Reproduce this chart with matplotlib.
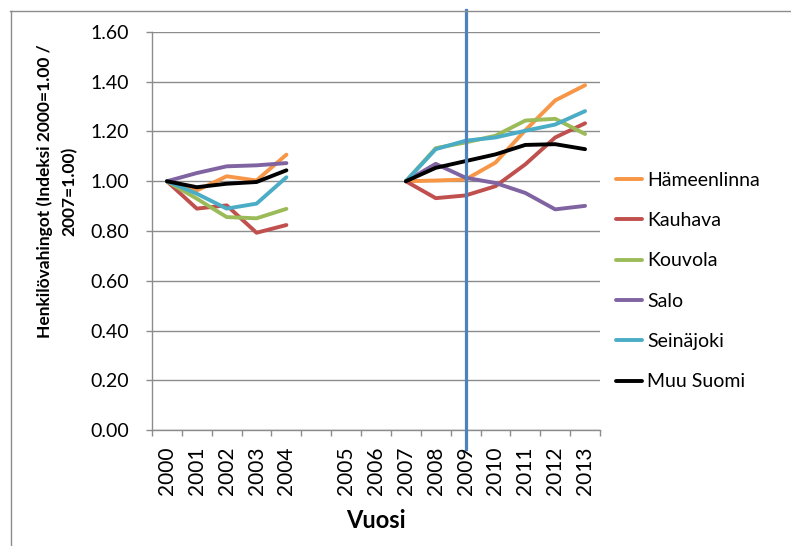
import numpy as np
import matplotlib
matplotlib.use("Agg")
import matplotlib.pyplot as plt
from matplotlib.lines import Line2D

plt.rcParams['font.family'] = ['Lato', 'DejaVu Sans']

categories = ["2000", "2001", "2002", "2003", "2004", "",
              "2005", "2006", "2007", "2008", "2009", "2010", "2011", "2012", "2013"]

N = None
hameenlinna = [1.00, 0.963, 1.02, 1.003, 1.107, N, N, N, 1.00, 1.003, 1.007, 1.075, 1.205, 1.325, 1.386]
kauhava     = [1.00, 0.89, 0.903, 0.793, 0.824, N, N, N, 1.00, 0.932, 0.943, 0.98, 1.068, 1.176, 1.233]
kouvola     = [1.00, 0.93, 0.856, 0.851, 0.889, N, N, N, 1.00, 1.133, 1.156, 1.183, 1.244, 1.251, 1.19]
salo        = [1.00, 1.033, 1.06, 1.064, 1.073, N, N, N, 1.00, 1.07, 1.014, 0.993, 0.953, 0.887, 0.901]
seinajoki   = [1.00, 0.95, 0.89, 0.91, 1.016, N, N, N, 1.00, 1.129, 1.163, 1.176, 1.203, 1.228, 1.282]
muu_suomi   = [1.00, 0.976, 0.99, 0.997, 1.044, N, N, N, 1.00, 1.054, 1.081, 1.108, 1.146, 1.149, 1.129]

series_names = ["Hämeenlinna", "Kauhava", "Kouvola", "Salo", "Seinäjoki", "Muu Suomi"]
series_values = [hameenlinna, kauhava, kouvola, salo, seinajoki, muu_suomi]
colors = ["#F79646", "#C0504D", "#9BBB59", "#8064A2", "#4BACC6", "#000000"]
marker_year = "2009"

W, H = 791, 546
fig = plt.figure(figsize=(W / 100, H / 100), dpi=100)
ax = fig.add_axes([152 / W, (H - 430) / H, (600 - 152) / W, (430 - 32) / H])

x = np.arange(len(categories))
for name, vals, c in zip(series_names, series_values, colors):
    y = np.array([np.nan if v is None else v for v in vals], dtype=float)
    ax.plot(x, y, color=c, lw=2.8, label=name, solid_capstyle='round', solid_joinstyle='round')

ax.set_xlim(-0.5, len(categories) - 0.5)
ax.set_ylim(0, 1.6)
ax.set_yticks(np.arange(0, 1.61, 0.2))
ax.set_yticklabels([f"{v:.2f}" for v in np.arange(0, 1.61, 0.2)])
ax.yaxis.grid(True, color="#8c8c8c", lw=1)
ax.set_axisbelow(True)

ax.set_xticks(x)
ax.set_xticklabels(categories, rotation=90)
ax.set_xticks(np.arange(-0.5, len(categories)), minor=True)
ax.tick_params(axis='x', which='major', length=0, pad=12, labelsize=15)
ax.tick_params(axis='x', which='minor', length=4, color="#8c8c8c", width=1)
ax.tick_params(axis='y', which='major', length=4.3, color="#8c8c8c", width=1, pad=12.5, labelsize=14)

for s in ['top', 'right']:
    ax.spines[s].set_visible(False)
for s in ['left', 'bottom']:
    ax.spines[s].set_color("#8c8c8c")
    ax.spines[s].set_linewidth(1)

# vertical marker line
xi = categories.index(marker_year)
ax.axvline(xi, ymin=(430 - 449) / 398, ymax=(430 - 10) / 398, color="#4F81BD", lw=2.3, clip_on=False, zorder=5)

fig.text(57 / W, 1 - 191 / H, "Henkilövahingot (Indeksi 2000=1.00 /\n2007=1.00)",
         rotation=90, ha='center', va='center', multialignment='center',
         fontsize=12.5, fontweight='bold', linespacing=1.6)
fig.text(376 / W, 1 - 521 / H, "Vuosi", ha='center', va='center', fontsize=17, fontweight='bold')

leg = fig.legend(loc='upper left', bbox_to_anchor=(608 / W, 1 - 164 / H), frameon=False,
                 fontsize=14, handlelength=1.35, handletextpad=0.26, labelspacing=1.2,
                 borderaxespad=0)

# chart border
fig.add_artist(Line2D([10 / W, 1.0], [1 - 10.5 / H, 1 - 10.5 / H], transform=fig.transFigure, color="#8c8c8c", lw=1))
fig.add_artist(Line2D([10.5 / W, 10.5 / W], [0, 1 - 10.5 / H], transform=fig.transFigure, color="#8c8c8c", lw=1))

fig.savefig("out.png", dpi=100)
